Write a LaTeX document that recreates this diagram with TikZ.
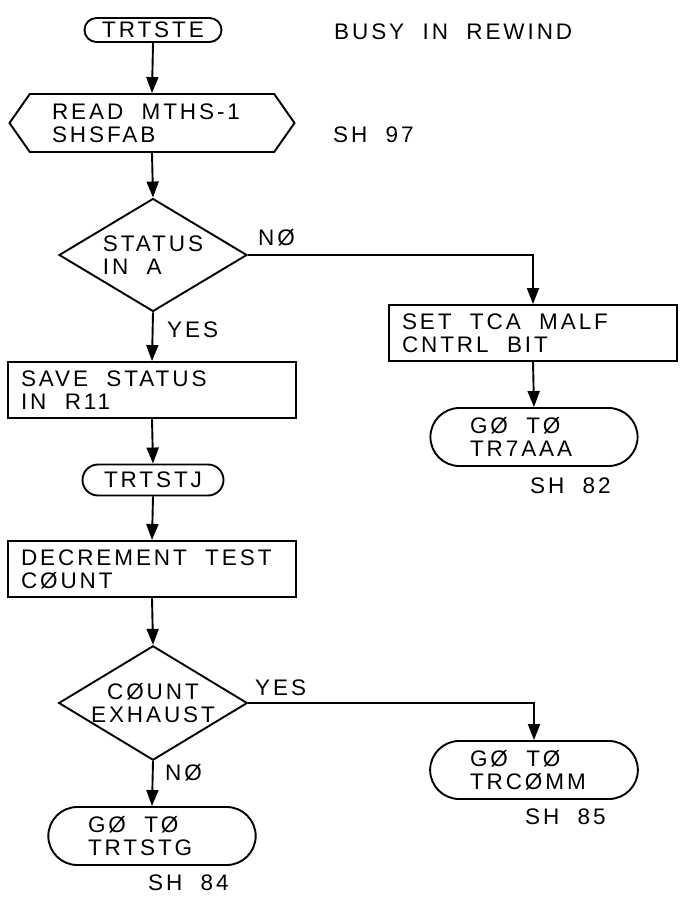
\documentclass[tikz,border=0pt]{standalone}
\usepackage{fontspec}
\newfontfamily\handfont{Liberation Sans}[LetterSpace=13,WordSpace=2.0]
\usetikzlibrary{arrows.meta,shapes.geometric,shapes.misc,shapes.symbols}
\tikzset{
 fc line/.style={line width=1.9pt},
 fc flow/.style={fc line,-{Triangle[length=16pt,width=12pt]}},
 fc text/.style={font=\handfont\fontsize{22.5}{23}\selectfont,
                 execute at begin node={\spaceskip=0pt\xspaceskip=0pt}},
 fc box/.style={fc text,fc line,draw,rectangle,minimum width=288pt,minimum height=56pt,
                text width=262pt,inner xsep=13pt,align=left},
 fc term/.style={fc text,fc line,draw,rounded rectangle,minimum height=#1,inner sep=0pt},
 fc goto/.style={fc term=58pt,text width=128pt,inner xsep=32pt,align=left},
 fc decision/.style={fc text,fc line,draw,diamond,aspect=1.65,minimum width=188pt,
                     minimum height=113pt,inner sep=0pt},
 fc io/.style={fc text,fc line,draw,signal,signal to=west and east,signal pointer angle=110,
               minimum width=285pt,minimum height=58pt,text width=200pt,align=left,inner sep=0pt},
 fc branch label/.style={fc text,inner sep=0pt}
}
\begin{document}
\begin{tikzpicture}[x=1pt,y=-1pt]
 \useasboundingbox (0,0) rectangle (686,899);
 % main column
 \node[fc term=24pt,minimum width=137pt] (trtste) at (153,30) {TRTSTE};
 \node[fc io] (readmths) at (152,123) {READ MTHS-1\\SHSFAB};
 \node[fc decision,align=left] (statusa) at (153,255) {STATUS\\IN A};
 \node[fc box] (savestat) at (152,390) {SAVE STATUS\\IN R11};
 \node[fc term=31pt,minimum width=141pt] (trtstj) at (153,480) {TRTSTJ};
 \node[fc box] (decrcnt) at (152,569) {DECREMENT TEST\\CØUNT};
 \node[fc decision,align=center] (cntexh) at (153,703) {CØUNT\\EXHAUST};
 \node[fc goto] (gotrtstg) at (152,836) {GØ TØ\\TRTSTG};
 % right column
 \node[fc box] (setmalf) at (533,333) {SET TCA MALF\\CNTRL BIT};
 \node[fc goto] (gotr7aaa) at (534,437) {GØ TØ\\TR7AAA};
 \node[fc goto] (gotrcomm) at (534,770) {GØ TØ\\TRCØMM};

 \foreach \a/\b in {trtste/readmths,readmths/statusa,statusa/savestat,savestat/trtstj,
                    trtstj/decrcnt,decrcnt/cntexh,cntexh/gotrtstg,setmalf/gotr7aaa}{
   \draw[fc flow] (\a.south) -- (\b.north);
 }
 \draw[fc flow] (statusa.east) -| (setmalf.north);
 \draw[fc flow] (cntexh.east) -| (gotrcomm.north);

 \node[fc branch label,anchor=west] (noa) at (258,238) {NØ};
 \node[fc branch label,anchor=west] (yesa) at (167,330) {YES};
 \node[fc branch label,anchor=west] (yesb) at (255,688) {YES};
 \node[fc branch label,anchor=west] (nob) at (165,773) {NØ};

 \node[fc branch label,anchor=west] (title) at (334,32) {BUSY IN REWIND};
 \node[fc branch label,anchor=west] (sh97) at (333,135) {SH 97};
 \node[fc branch label,anchor=west] (sh82) at (530,486) {SH 82};
 \node[fc branch label,anchor=west] (sh85) at (525,817) {SH 85};
 \node[fc branch label,anchor=west] (sh84) at (148,883) {SH 84};
\end{tikzpicture}
\end{document}
